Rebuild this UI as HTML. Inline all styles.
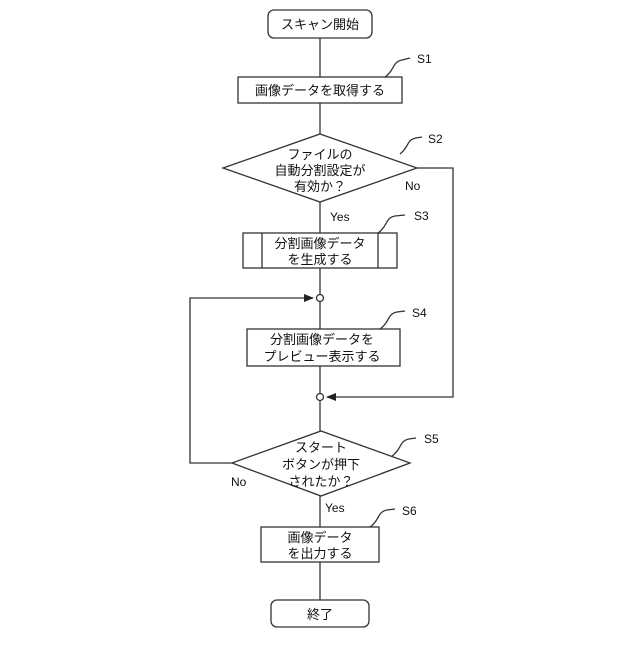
<!DOCTYPE html>
<html><head><meta charset="utf-8"><style>body{margin:0;background:#fff}</style></head><body>
<svg width="640" height="640" xmlns="http://www.w3.org/2000/svg" font-family="Liberation Sans, Noto Sans CJK JP, sans-serif" font-size="13" fill="#111">
<defs><marker id="a" markerWidth="10" markerHeight="8" refX="9" refY="4" orient="auto" markerUnits="userSpaceOnUse"><path d="M0,0L10,4L0,8z" fill="#222"/></marker></defs>
<g stroke="#333" stroke-width="1.3" fill="none">
<line x1="320" y1="38" x2="320" y2="600"/>
<rect x="268" y="10" width="104" height="28" rx="6" fill="#fff"/>
<rect x="238" y="77" width="164" height="26" fill="#fff"/>
<polygon points="320,134 417,168 320,202 223,168" fill="#fff"/>
<polyline points="417,168 453,168 453,397 327,397" marker-end="url(#a)"/>
<rect x="243" y="233" width="154" height="35" fill="#fff"/>
<line x1="262" y1="233" x2="262" y2="268"/><line x1="378" y1="233" x2="378" y2="268"/>
<polyline points="232,463 190,463 190,298 313,298" marker-end="url(#a)"/>
<circle cx="320" cy="298" r="3.5" fill="#fff"/>
<rect x="247" y="329" width="153" height="37" fill="#fff"/>
<circle cx="320" cy="397" r="3.5" fill="#fff"/>
<polygon points="321,431 410,463 321,496 232,463" fill="#fff"/>
<rect x="261" y="527" width="118" height="35" fill="#fff"/>
<rect x="271" y="600" width="98" height="27" rx="6" fill="#fff"/>
<path d="M385,77 C395,70 392,62 402,60 L410,58"/>
<path d="M400,154 C410,146 406,140 416,138 L422,137"/>
<path d="M378,233 C388,226 385,218 395,216 L405,215"/>
<path d="M380,329 C390,322 387,314 397,312 L405,311"/>
<path d="M392,456 C402,449 399,441 409,439 L416,438"/>
<path d="M370,527 C380,520 377,512 387,510 L395,509"/>
</g>
<g text-anchor="middle">
<text x="320" y="29">スキャン開始</text>
<text x="320" y="95">画像データを取得する</text>
<text x="320" y="159">ファイルの</text>
<text x="320" y="175">自動分割設定が</text>
<text x="320" y="191">有効か？</text>
<text x="320" y="248">分割画像データ</text>
<text x="320" y="264">を生成する</text>
<text x="322" y="344">分割画像データを</text>
<text x="322" y="361">プレビュー表示する</text>
<text x="321" y="452">スタート</text>
<text x="321" y="469">ボタンが押下</text>
<text x="321" y="486">されたか？</text>
<text x="320" y="542">画像データ</text>
<text x="320" y="558">を出力する</text>
<text x="320" y="619">終了</text>
</g>
<g font-size="12">
<text x="417" y="63">S1</text><text x="428" y="143">S2</text><text x="414" y="220">S3</text>
<text x="412" y="317">S4</text><text x="424" y="443">S5</text><text x="402" y="515">S6</text>
<text x="330" y="221">Yes</text><text x="405" y="190">No</text>
<text x="231" y="486">No</text><text x="325" y="512">Yes</text>
</g>
</svg>
</body></html>
